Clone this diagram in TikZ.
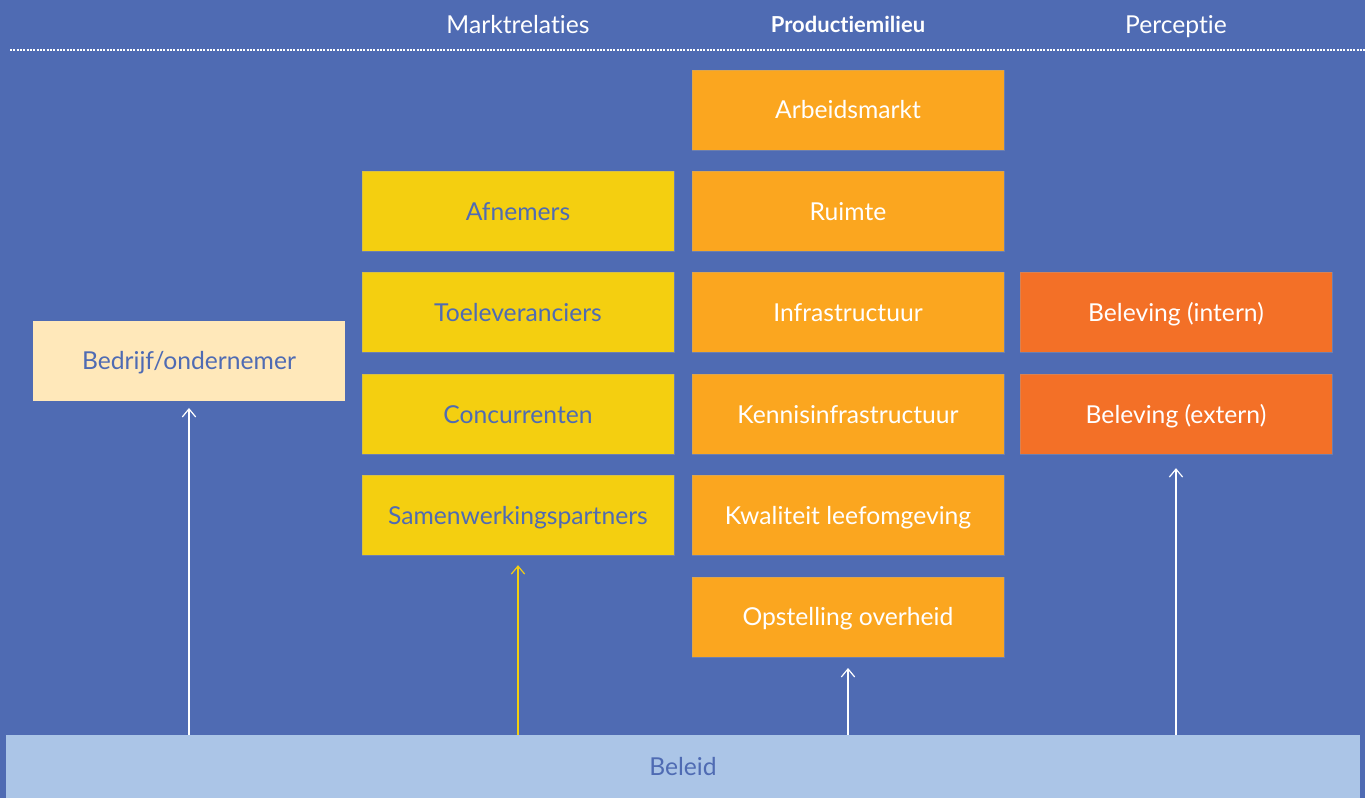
\documentclass[tikz,border=0pt]{standalone}
\usepackage{fontspec}
\setmainfont[Ligatures=NoCommon]{Lato}
\usetikzlibrary{arrows.meta}
\definecolor{bgblue}{HTML}{4F6BB3}
\definecolor{myyellow}{HTML}{F4CF10}
\definecolor{myorange}{HTML}{FBA61F}
\definecolor{myred}{HTML}{F37027}
\definecolor{mycream}{HTML}{FFE8BA}
\definecolor{lightblue}{HTML}{ABC5E7}
\tikzset{
  txt/.style={font=\fontsize{18.5}{22}\selectfont, text height=13.3pt, text depth=0pt},
  box/.style={rectangle, minimum width=234pt, minimum height=60pt, inner sep=0pt,
    txt, draw=black!35, draw opacity=0.35, line width=0.5pt},
  ybox/.style={box, fill=myyellow, text=bgblue},
  obox/.style={box, fill=myorange, text=white},
  rbox/.style={box, fill=myred, text=white},
  cbox/.style={box, fill=mycream, text=bgblue, draw=none},
  head/.style={txt, text=white},
  arr/.style={draw=white, line width=1.1pt, -{Straight Barb[length=6pt,width=10pt,line width=0.9pt]}},
}
\begin{document}
\begin{tikzpicture}[x=0.75pt,y=-0.75pt]
\fill[bgblue] (0,0) rectangle (1365,798);
\useasboundingbox (0,0) rectangle (1365,798);
% headers
\node[head] (h1) at (518,25) {Marktrelaties};
\node[head, font=\fontsize{16.5}{20}\selectfont\bfseries, text height=11.9pt] (h2) at (848,25) {Productiemilieu};
\node[head] (h3) at (1176,25) {Perceptie};
\coordinate (dl) at (10,50);
\coordinate (dr) at (1365,50);
\draw[white, line width=0.8pt, dash pattern=on 1.5pt off 1pt] (dl) -- (dr);
% left box
\node[cbox] (bed) at (189,361) {Bedrijf/ondernemer};
% yellow column
\node[ybox] (afn) at (518,211.5) {Afnemers};
\node[ybox] (toe) at (518,312.5) {Toeleveranciers};
\node[ybox] (con) at (518,414.5) {Concurrenten};
\node[ybox] (sam) at (518,515.5) {Samenwerkingspartners};
% orange column
\node[obox] (arb) at (848,110) {Arbeidsmarkt};
\node[obox] (rui) at (848,211.5) {Ruimte};
\node[obox] (inf) at (848,312.5) {Infrastructuur};
\node[obox] (ken) at (848,414.5) {Kennisinfrastructuur};
\node[obox] (kwa) at (848,515.5) {Kwaliteit leefomgeving};
\node[obox] (ops) at (848,617) {Opstelling overheid};
% red column
\node[rbox] (bin) at (1176,312.5) {Beleving (intern)};
\node[rbox] (bex) at (1176,414.5) {Beleving (extern)};
% base
\node[rectangle, fill=lightblue, minimum width=1015pt, minimum height=47.5pt, inner sep=0pt,
  anchor=north west] (bel) at (6,735) {};
\node[txt, text=bgblue] (beltxt) at (683,767) {Beleid};
% arrows
\draw[arr, shorten >=5pt] (bel.north -| bed) -- (bed);
\draw[arr, draw=myyellow, shorten >=7pt] (bel.north -| sam) -- (sam);
\draw[arr, shorten >=8pt] (bel.north -| ops) -- (ops);
\draw[arr, shorten >=10pt] (bel.north -| bex) -- (bex);
\end{tikzpicture}
\end{document}
